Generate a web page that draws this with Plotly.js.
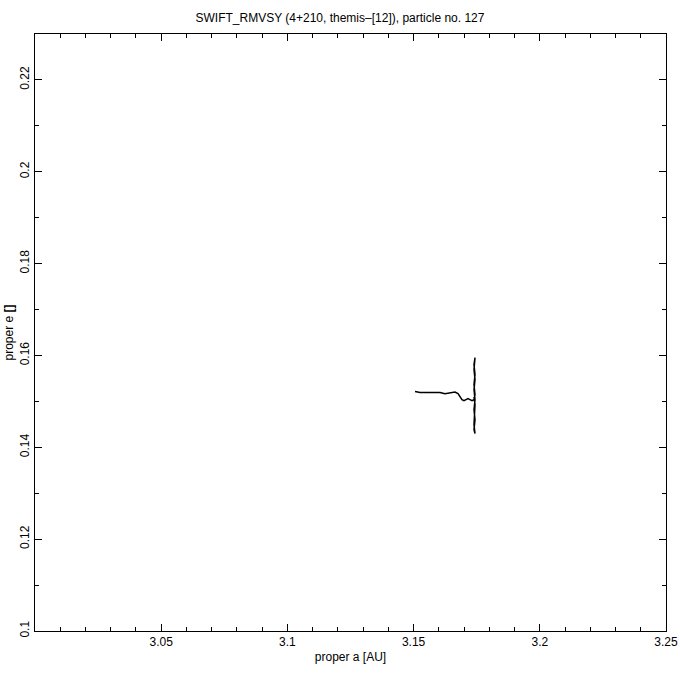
<!DOCTYPE html>
<html>
<head>
<meta charset="utf-8">
<script src="https://cdn.plot.ly/plotly-3.0.1.min.js"></script>
<style>html,body{margin:0;padding:0;background:#fff;}#chart{width:680px;height:680px;}</style>
</head>
<body>
<div id="chart"></div>
<script>
var properA = [3.15055,3.15254,3.15452,3.15650,3.15848,3.16046,3.16244,3.16442,3.16640,3.16759,3.16838,3.16918,3.16997,3.17076,3.17155,3.17235,3.17314,3.17393,
  3.17433,3.17393,3.17433,3.17393,3.17433,3.17393,3.17433,3.17393,3.17433,3.17393,3.17433,3.17393,3.17433,3.17393,3.17433,3.17393];
var properE = [0.15213,0.15191,0.15191,0.15191,0.15180,0.15191,0.15169,0.15191,0.15202,0.15169,0.15104,0.15038,0.15016,0.15038,0.15060,0.15038,0.15016,0.15038,
  0.15147,0.15365,0.15583,0.15802,0.15954,0.15693,0.15474,0.15256,0.15038,0.14820,0.14602,0.14384,0.14297,0.14493,0.14929,0.15100];
var xTickVals = [3.05,3.1,3.15,3.2,3.25];
var xTickText = ['3.05','3.1','3.15','3.2','3.25'];
var yTickVals = [0.1,0.12,0.14,0.16,0.18,0.2,0.22];
var yTickText = ['0.1','0.12','0.14','0.16','0.18','0.2','0.22'];
var titleText = 'SWIFT_RMVSY (4+210, themis\u2013[12]), particle no. 127';

var font = {family:'Liberation Sans, Arial, sans-serif', size:11, color:'#000'};
var data = [{
  x: properA, y: properE, type:'scatter', mode:'lines',
  line:{color:'#000', width:1.5}, hoverinfo:'none'
}];
var layout = {
  width:680, height:680,
  margin:{l:35, r:14, t:34, b:49, pad:0},
  paper_bgcolor:'#fff', plot_bgcolor:'#fff',
  showlegend:false,
  font: font,
  title:{text:titleText, font:{family:font.family, size:12, color:'#000'}, x:0.5, xanchor:'center', y:1-18/680, yanchor:'middle', yref:'container'},
  xaxis:{
    range:[3.0,3.25], showgrid:false, zeroline:false, showline:true, linecolor:'#000', linewidth:1,
    mirror:'allticks', ticks:'inside', ticklen:7, tickcolor:'#000', tickwidth:1,
    tickvals:xTickVals, ticktext:xTickText, tickfont:{family:font.family,size:12,color:'#000'},
    minor:{dtick:0.01, tick0:3.0, ticks:'inside', ticklen:4, tickcolor:'#000', showgrid:false},
    title:{text:'proper a [AU]', font:{family:font.family,size:12,color:'#000'}, standoff:4}
  },
  yaxis:{
    range:[0.1,0.23], showgrid:false, zeroline:false, showline:true, linecolor:'#000', linewidth:1,
    mirror:'allticks', ticks:'inside', ticklen:7, tickcolor:'#000', tickwidth:1,
    tickvals:yTickVals, ticktext:yTickText, tickangle:-90, tickfont:{family:font.family,size:12,color:'#000'},
    minor:{dtick:0.01, tick0:0.1, ticks:'inside', ticklen:4, tickcolor:'#000', showgrid:false},
    title:{text:'proper e <b>[]</b>', font:{family:font.family,size:12,color:'#000'}, standoff:2}
  }
};
Plotly.newPlot('chart', data, layout, {displayModeBar:false, staticPlot:true});
</script>
</body>
</html>
